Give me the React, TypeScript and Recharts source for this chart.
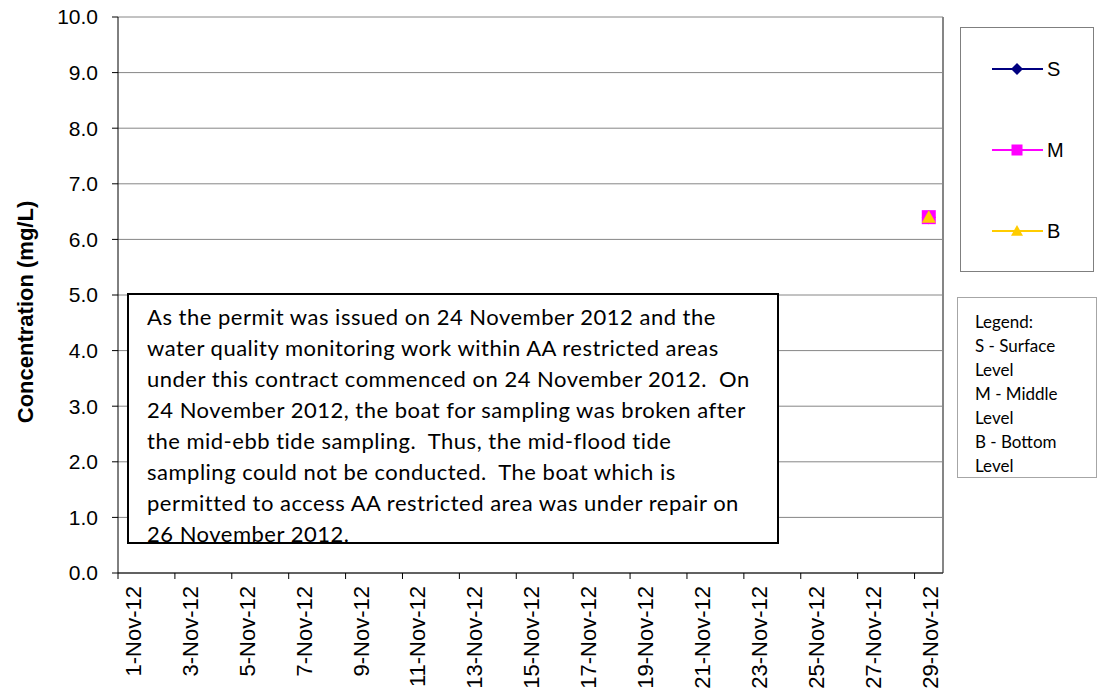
import React from 'react';
import { LineChart, Line, XAxis, YAxis, CartesianGrid, ReferenceLine } from 'recharts';

// sampling day in November 2012 (fraction = time of day)
const sampleDays = [29.5];
const surface = [6.4];
const middle = [6.4];
const bottom = [6.4];

const dayTicks = [1, 3, 5, 7, 9, 11, 13, 15, 17, 19, 21, 23, 25, 27, 29];
const yTicks = [0, 1, 2, 3, 4, 5, 6, 7, 8, 9, 10];

const series = [
  { key: 'S', color: '#000080', shape: 'diamond' },
  { key: 'M', color: '#ff00ff', shape: 'square' },
  { key: 'B', color: '#ffcc00', shape: 'triangle' },
];

const data = sampleDays.map((d, i) => ({ day: d, S: surface[i], M: middle[i], B: bottom[i] }));

const noteLines = [
  'As the permit was issued on 24 November 2012 and the',
  'water quality monitoring work within AA restricted areas',
  'under this contract commenced on 24 November 2012.  On',
  '24 November 2012, the boat for sampling was broken after',
  'the mid-ebb tide sampling.  Thus, the mid-flood tide',
  'sampling could not be conducted.  The boat which is',
  'permitted to access AA restricted area was under repair on',
  '26 November 2012.',
];

const keyLines = ['Legend:', 'S - Surface', 'Level', 'M - Middle', 'Level', 'B - Bottom', 'Level'];

function Marker({ shape, cx, cy, color, r }: { shape: string; cx: number; cy: number; color: string; r: number }) {
  if (shape === 'diamond') {
    return <polygon points={`${cx},${cy - r} ${cx + r},${cy} ${cx},${cy + r} ${cx - r},${cy}`} fill={color} />;
  }
  if (shape === 'square') {
    return <rect x={cx - r} y={cy - r} width={r * 2} height={r * 2} fill={color} />;
  }
  return <polygon points={`${cx},${cy - r} ${cx + r},${cy + r * 0.8} ${cx - r},${cy + r * 0.8}`} fill={color} />;
}

const DateTick = (props: any) => {
  const { x, y, payload } = props;
  const tx = x + 23;
  const ty = y + 5;
  return (
    <text x={tx} y={ty} transform={`rotate(-90, ${tx}, ${ty})`} textAnchor="end" fontSize={22} fill="#000">
      {`${payload.value}-Nov-12`}
    </text>
  );
};

function SeriesLegend() {
  return (
    <div style={{ position: 'absolute', left: 960, top: 27, width: 134, height: 245, border: '1.5px solid #7f7f7f', boxSizing: 'border-box', background: '#fff' }}>
      {series.map((s, i) => (
        <div key={s.key} style={{ position: 'absolute', left: 31, top: 28 + i * 81, height: 26, display: 'flex', alignItems: 'center' }}>
          <svg width={51} height={26}>
            <line x1={0} y1={13} x2={51} y2={13} stroke={s.color} strokeWidth={2} />
            <Marker shape={s.shape} cx={25} cy={13} color={s.color} r={s.shape === 'square' ? 5.5 : 6} />
          </svg>
          <span style={{ fontSize: 20, marginLeft: 4, color: '#000' }}>{s.key}</span>
        </div>
      ))}
    </div>
  );
}

export default function App() {
  return (
    <div style={{ position: 'absolute', left: 0, top: 0, width: 1097, height: 697, background: '#fff', fontFamily: '"Liberation Sans", Arial, sans-serif' }}>
      <LineChart width={1097} height={697} data={data} margin={{ top: 17, right: 154, left: 0, bottom: 0 }}>
        <CartesianGrid horizontal vertical={false} stroke="#868686" strokeWidth={1} />
        <XAxis
          dataKey="day"
          type="number"
          domain={[1, 30]}
          ticks={dayTicks}
          interval={0}
          height={124}
          tickSize={6}
          tick={<DateTick />}
          axisLine={{ stroke: '#000' }}
          tickLine={{ stroke: '#000' }}
        />
        <YAxis
          domain={[0, 10]}
          ticks={yTicks}
          width={118}
          tickSize={6}
          tickMargin={14}
          tickFormatter={(v: number) => v.toFixed(1)}
          tick={{ fontSize: 21, fill: '#000' }}
          axisLine={{ stroke: '#000' }}
          tickLine={{ stroke: '#000' }}
          label={() => (
            <text x={33} y={312} transform="rotate(-90, 33, 312)" textAnchor="middle" fontSize={22} fontWeight="bold" fill="#000">
              Concentration (mg/L)
            </text>
          )}
        />
        <ReferenceLine x={30} stroke="#868686" strokeWidth={2} />
        {series.map((s) => (
          <Line
            key={s.key}
            dataKey={s.key}
            stroke={s.color}
            strokeWidth={2}
            isAnimationActive={false}
            dot={(p: any) => <Marker key={`${s.key}-${p.index}`} shape={s.shape} cx={p.cx} cy={p.cy} color={s.color} r={7} />}
            activeDot={false}
          />
        ))}
      </LineChart>
      <SeriesLegend />
      <div
        style={{
          position: 'absolute', left: 127, top: 293, width: 652, height: 251, boxSizing: 'border-box',
          border: '2px solid #000', background: '#fff', paddingLeft: 18, paddingTop: 6,
          fontFamily: 'Lato, sans-serif', fontSize: 22, letterSpacing: 0.5, lineHeight: '31px', color: '#000', whiteSpace: 'nowrap',
        }}
      >
        {noteLines.map((l, i) => (
          <div key={i} style={{ whiteSpace: 'pre' }}>{l}</div>
        ))}
      </div>
      <div
        style={{
          position: 'absolute', left: 957, top: 297, width: 140, height: 181, boxSizing: 'border-box',
          border: '1.5px solid #a6a6a6', background: '#fff', paddingLeft: 17, paddingTop: 12,
          fontFamily: 'Lato, sans-serif', fontSize: 17, lineHeight: '24px', color: '#000',
        }}
      >
        {keyLines.map((l, i) => (
          <div key={i}>{l}</div>
        ))}
      </div>
    </div>
  );
}
